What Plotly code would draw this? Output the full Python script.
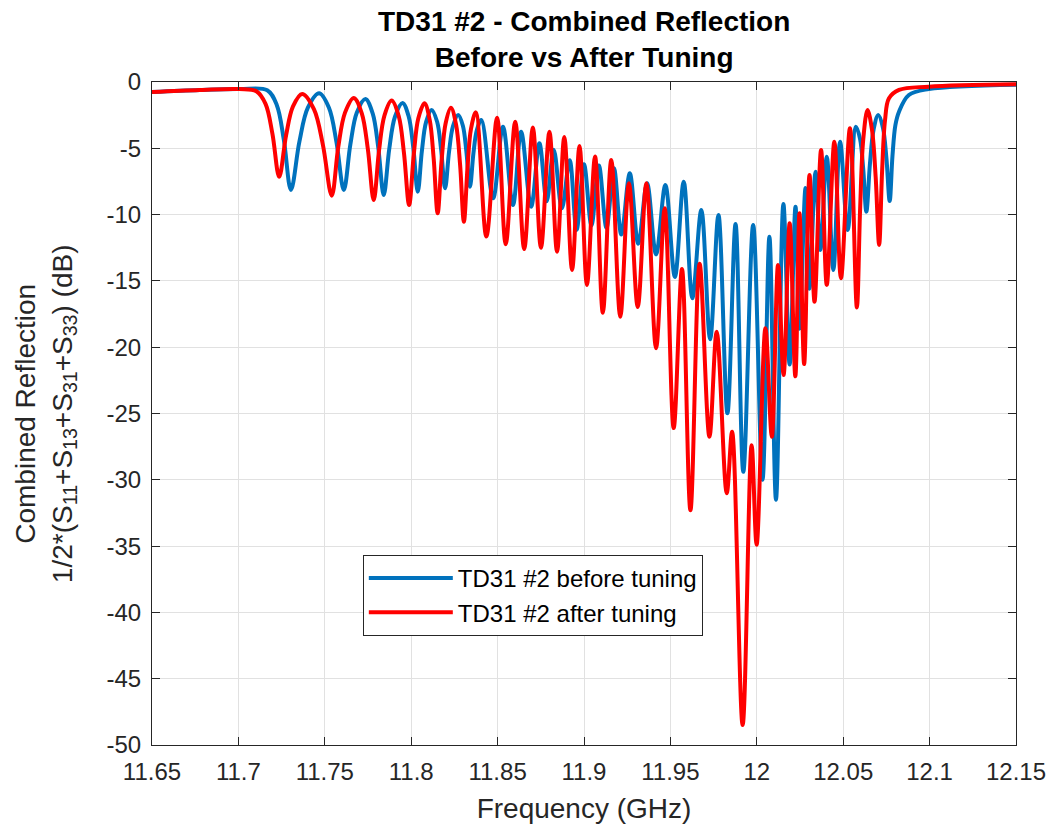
import plotly.graph_objects as go

# Combined reflection vs frequency, before tuning (GHz, dB)
freq_before = [
    11.65, 11.6776, 11.7006, 11.7167, 11.7222, 11.7263, 11.7304, 11.7353, 11.7402, 11.7467,
    11.7524, 11.7567, 11.7610, 11.7648, 11.7685, 11.7735, 11.7777, 11.7809, 11.7841, 11.7873,
    11.7906, 11.795, 11.7985, 11.8012, 11.8038, 11.8062, 11.8086, 11.8118, 11.815, 11.8173,
    11.8196, 11.8219, 11.8242, 11.8272, 11.8299, 11.8319, 11.834, 11.836, 11.838, 11.8406,
    11.8474, 11.8531, 11.8589, 11.8636, 11.8694, 11.8742, 11.8784, 11.8825, 11.8872, 11.8917,
    11.8957, 11.90, 11.9043, 11.9086, 11.9130, 11.9173, 11.9216, 11.9265, 11.9314, 11.9365,
    11.9417, 11.9471, 11.9526, 11.9577, 11.9627, 11.9679, 11.973, 11.9778, 11.983, 11.9877,
    11.9922, 11.9979, 12.0033, 12.0073, 12.0111, 12.0154, 12.019, 12.0224, 12.0247, 12.0282,
    12.0305, 12.034, 12.0368, 12.0405, 12.0443, 12.0482, 12.0526, 12.0574, 12.0598, 12.0616,
    12.0634, 12.0655, 12.0676, 12.0703, 12.073, 12.075, 12.0769, 12.0785, 12.0802, 12.0823,
    12.088, 12.0995, 12.15,
]
refl_before = [
    -0.75, -0.6, -0.53, -0.62, -1.73, -4.37, -8.14, -4.5, -1.94, -0.85,
    -1.94, -4.5, -8.14, -4.71, -2.31, -1.28, -2.37, -4.9, -8.52, -5.05,
    -2.62, -1.58, -2.58, -4.93, -8.27, -5.19, -3.03, -2.11, -3.0, -5.07,
    -8.02, -5.26, -3.32, -2.49, -3.3, -5.2, -7.9, -5.39, -3.62, -2.87,
    -8.77, -3.37, -9.28, -3.75, -9.4, -4.62, -9.0, -5.1, -9.53, -5.9,
    -11.16, -6.2, -10.8, -6.3, -11.0, -6.5, -11.5, -6.89, -12.2, -7.64,
    -13.0, -7.77, -14.7, -7.52, -16.3, -9.65, -19.4, -10.03, -24.98, -10.7,
    -29.4, -10.78, -30.0, -11.67, -31.5, -9.2, -21.3, -9.4, -18.6, -8.0,
    -15.6, -6.76, -12.67, -5.63, -14.18, -4.5, -11.16, -3.37, -4.33, -6.58,
    -9.78, -6.14, -3.58, -2.49, -3.46, -5.73, -8.97, -5.6, -3.25, -2.24,
    -0.98, -0.53, -0.2,
]

# Same sweep after tuning
freq_after = [
    11.65, 11.6776, 11.7006, 11.7104, 11.7157, 11.7197, 11.7236, 11.7276, 11.7316, 11.7369,
    11.7437, 11.7489, 11.754, 11.7578, 11.7617, 11.7668, 11.7714, 11.7749, 11.7783, 11.7814,
    11.7845, 11.7887, 11.7928, 11.7958, 11.7988, 11.8015, 11.8041, 11.8077, 11.8107, 11.813,
    11.8153, 11.8176, 11.8199, 11.823, 11.826, 11.8283, 11.8305, 11.8326, 11.8346, 11.8374,
    11.8435, 11.8497, 11.8547, 11.8602, 11.8654, 11.8704, 11.8751, 11.88, 11.8844, 11.8886,
    11.8931, 11.8974, 11.9017, 11.9064, 11.9109, 11.9158, 11.921, 11.926, 11.9311, 11.9361,
    11.9417, 11.9467, 11.9519, 11.9567, 11.9616, 11.9669, 11.9726, 11.9768, 11.9826, 11.9857,
    11.9918, 11.997, 11.9999, 12.005, 12.0087, 12.0123, 12.0155, 12.019, 12.0223, 12.0247,
    12.0274, 12.0305, 12.0334, 12.0372, 12.0405, 12.0449, 12.0487, 12.0539, 12.0579, 12.0598,
    12.0616, 12.0641, 12.0667, 12.0688, 12.0708, 12.0725, 12.0742, 12.0765, 12.0823, 12.0995,
    12.15,
]
refl_after = [
    -0.75, -0.6, -0.53, -0.7, -1.65, -3.91, -7.14, -4.02, -1.84, -0.9,
    -2.05, -4.74, -8.57, -4.89, -2.31, -1.2, -2.36, -5.05, -8.9, -5.15,
    -2.53, -1.4, -2.58, -5.34, -9.28, -5.45, -2.76, -1.61, -2.85, -5.76,
    -9.9, -5.92, -3.13, -1.94, -3.23, -6.24, -10.53, -6.41, -3.53, -2.29,
    -11.66, -2.69, -12.24, -2.99, -12.6, -3.44, -12.5, -3.75, -12.8, -4.15,
    -14.18, -4.83, -15.3, -5.62, -17.4, -5.88, -17.7, -7.64, -16.97, -7.64,
    -20.08, -9.53, -26.1, -14.1, -32.3, -13.7, -26.75, -18.83, -31.02, -26.37,
    -48.5, -27.4, -34.9, -18.57, -26.75, -13.8, -22.1, -10.66, -22.2, -9.9,
    -21.27, -7.01, -16.57, -5.13, -15.3, -4.5, -14.8, -3.49, -17.0, -9.55,
    -4.34, -2.11, -3.64, -7.2, -12.29, -6.76, -2.89, -1.23, -0.6, -0.35,
    -0.17,
]

x_ticks = [11.65, 11.7, 11.75, 11.8, 11.85, 11.9, 11.95, 12.0, 12.05, 12.1, 12.15]
x_tick_labels = ["11.65", "11.7", "11.75", "11.8", "11.85", "11.9", "11.95", "12", "12.05", "12.1", "12.15"]
y_ticks = [0, -5, -10, -15, -20, -25, -30, -35, -40, -45, -50]
y_tick_labels = ["0", "-5", "-10", "-15", "-20", "-25", "-30", "-35", "-40", "-45", "-50"]

FONT = "Liberation Sans, Arial, sans-serif"
AXIS_COLOR = "#262626"
GRID_COLOR = "#e1e1e1"

fig = go.Figure()
fig.add_trace(go.Scatter(
    x=freq_before, y=refl_before, mode="lines", name="TD31 #2 before tuning",
    line=dict(color="#0072BD", width=4, shape="spline", smoothing=1.0),
))
fig.add_trace(go.Scatter(
    x=freq_after, y=refl_after, mode="lines", name="TD31 #2 after tuning",
    line=dict(color="#FF0000", width=4, shape="spline", smoothing=1.0),
))

axis_common = dict(
    showline=True, linecolor=AXIS_COLOR, linewidth=1, mirror="ticks",
    ticks="inside", ticklen=8, tickcolor=AXIS_COLOR, tickwidth=1,
    showgrid=True, gridcolor=GRID_COLOR, gridwidth=1, zeroline=False,
    tickfont=dict(family=FONT, size=24, color=AXIS_COLOR),
)

fig.update_layout(
    width=1058, height=831,
    margin=dict(l=152, r=37, t=82, b=86),
    paper_bgcolor="white", plot_bgcolor="white",
    xaxis=dict(
        range=[11.65, 12.15], tickvals=x_ticks, ticktext=x_tick_labels,
        ticklabelstandoff=5,
        title=dict(text="Frequency (GHz)", font=dict(family=FONT, size=28, color=AXIS_COLOR), standoff=14),
        **axis_common,
    ),
    yaxis=dict(
        range=[-50, 0], tickvals=y_ticks, ticktext=y_tick_labels,
        ticklabelstandoff=5,
        **axis_common,
    ),
    legend=dict(
        x=0.244, y=0.2866, xanchor="left", yanchor="top",
        bgcolor="white", bordercolor=AXIS_COLOR, borderwidth=1,
        font=dict(family=FONT, size=24, color="black"),
        itemwidth=84, tracegroupgap=0,
    ),
    showlegend=True,
    annotations=[
        dict(
            text="<b>TD31 #2 - Combined Reflection</b><br><b>Before vs After Tuning</b>",
            xref="paper", yref="paper", x=0.5, y=1, xanchor="center", yanchor="bottom",
            yshift=7, showarrow=False, font=dict(family=FONT, size=28, color="black"),
        ),
        dict(
            text="Combined Reflection<br>1/2*(S<sub>11</sub>+S<sub>13</sub>+S<sub>31</sub>+S<sub>33</sub>) (dB)",
            xref="paper", yref="paper", x=-0.1231, y=0.5, xanchor="center", yanchor="middle",
            textangle=-90, showarrow=False, font=dict(family=FONT, size=28, color=AXIS_COLOR),
        ),
    ],
)

fig.write_html("out.html")
